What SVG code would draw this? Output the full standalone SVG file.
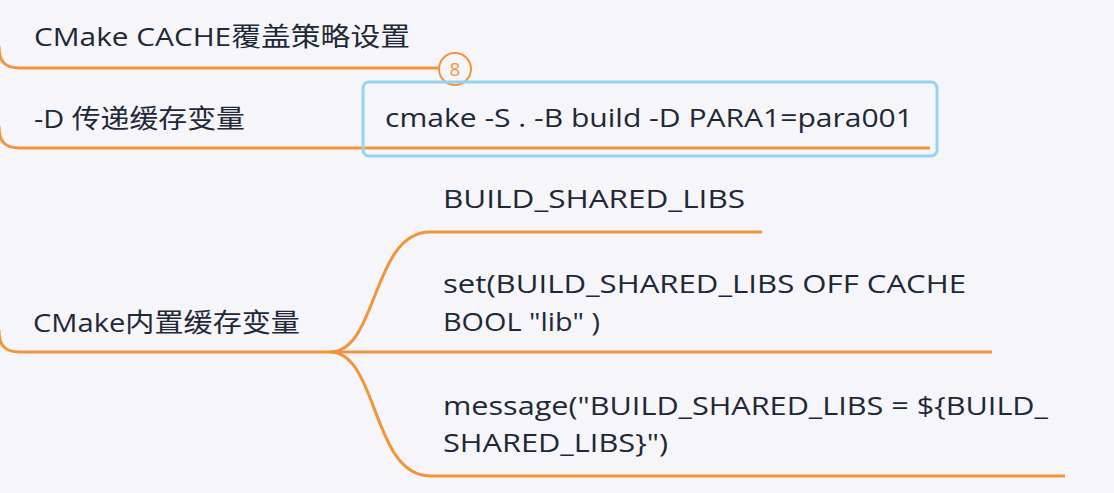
<svg xmlns="http://www.w3.org/2000/svg" width="1114" height="493" viewBox="0 0 1114 493">
<style>
.t{font-family:"Open Sans","Noto Sans","Noto Sans CJK SC",sans-serif;font-size:26px;fill:#1e2836}
.c{fill:none;stroke:#f0953b;stroke-width:3;stroke-linecap:butt}
</style>
<rect width="1114" height="493" fill="#f6f6fa"/>
<g id="connectors">
<path class="c" d="M-1 46 C-1 62 5 68 20 68 L441 68"/>
<path class="c" d="M-1 126 C-1 142 5 148 20 148 L930 148"/>
<path class="c" d="M-1 330 C-1 346 5 352 20 352 L992 352"/>
<path class="c" d="M330 352 C378 352 372 232 430 232 L762 232"/>
<path class="c" d="M330 352 C378 352 372 476 430 476 L1065 476"/>
</g>
<g id="node1">
<text class="t" x="34" y="46" textLength="376" lengthAdjust="spacingAndGlyphs">CMake CACHE覆盖策略设置</text>
</g>
<g id="badge">
<circle cx="455" cy="69" r="16" fill="#f6f6fa" stroke="#f0953b" stroke-width="2"/>
<text x="455" y="76" text-anchor="middle" font-family="Open Sans,sans-serif" font-size="19" fill="#f0953b">8</text>
</g>
<g id="node2">
<text class="t" x="34" y="128" textLength="211" lengthAdjust="spacingAndGlyphs">-D 传递缓存变量</text>
</g>
<g id="node3">
<rect x="363" y="82" width="574" height="74" rx="6" fill="none" stroke="#93d3f4" stroke-width="3"/>
<text class="t" x="385" y="127" textLength="528" lengthAdjust="spacingAndGlyphs">cmake -S . -B build -D PARA1=para001</text>
</g>
<g id="node4">
<text class="t" x="33" y="332" textLength="267" lengthAdjust="spacingAndGlyphs">CMake内置缓存变量</text>
</g>
<g id="node5">
<text class="t" x="443" y="208" textLength="302" lengthAdjust="spacingAndGlyphs">BUILD_SHARED_LIBS</text>
</g>
<g id="node6">
<text class="t" x="443" y="293" textLength="523" lengthAdjust="spacingAndGlyphs">set(BUILD_SHARED_LIBS OFF CACHE</text>
<text class="t" x="443" y="331" textLength="157" lengthAdjust="spacingAndGlyphs">BOOL "lib" )</text>
</g>
<g id="node7">
<text class="t" x="443" y="415" textLength="605" lengthAdjust="spacingAndGlyphs">message("BUILD_SHARED_LIBS = ${BUILD_</text>
<text class="t" x="443" y="452" textLength="225" lengthAdjust="spacingAndGlyphs">SHARED_LIBS}")</text>
</g>
</svg>
